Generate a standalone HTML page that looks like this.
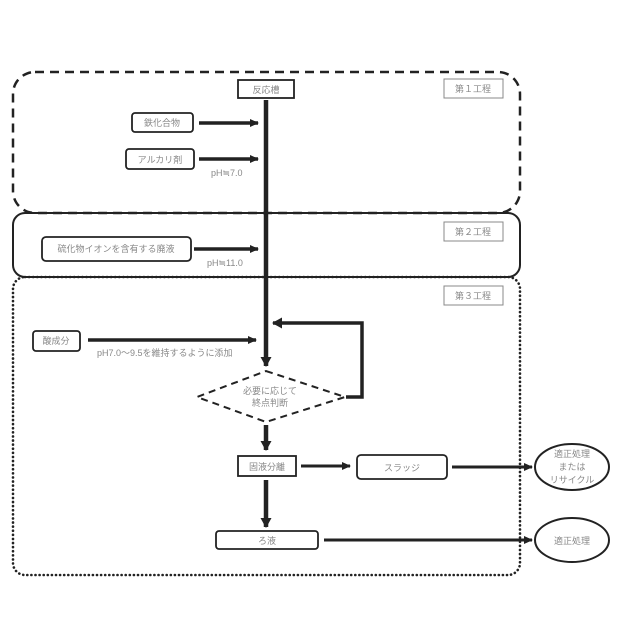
<!DOCTYPE html>
<html><head><meta charset="utf-8"><style>
html,body{margin:0;padding:0;background:#fff;}
svg{display:block;}
text{font-family:"Liberation Sans","Noto Sans CJK JP",sans-serif;fill:#888;font-size:9px;}
</style></head><body>
<svg width="640" height="640" viewBox="0 0 640 640" xmlns="http://www.w3.org/2000/svg">
<defs>
<marker id="a" markerWidth="10" markerHeight="10" refX="8" refY="5" orient="auto" markerUnits="userSpaceOnUse">
<path d="M0,1 L9,5 L0,9 z" fill="#222"/></marker>
<marker id="b" markerWidth="12" markerHeight="12" refX="9" refY="6" orient="auto" markerUnits="userSpaceOnUse">
<path d="M0,0.5 L10,6 L0,11.5 z" fill="#222"/></marker>
</defs>
<rect x="13" y="72" width="507" height="141" rx="22" fill="none" stroke="#222" stroke-width="2.5" stroke-dasharray="9,6"/>
<rect x="13" y="213" width="507" height="64" rx="12" fill="none" stroke="#222" stroke-width="2"/>
<rect x="13" y="277" width="507" height="298" rx="12" fill="none" stroke="#222" stroke-width="2.6" stroke-linecap="round" stroke-dasharray="0.1,4"/>
<g fill="#fff" stroke="#888" stroke-width="1">
<rect x="444" y="79" width="59" height="19"/>
<rect x="444" y="222" width="59" height="19"/>
<rect x="444" y="286" width="59" height="19"/>
</g>
<text x="473" y="92" text-anchor="middle">第１工程</text>
<text x="473" y="235" text-anchor="middle">第２工程</text>
<text x="473" y="299" text-anchor="middle">第３工程</text>
<line x1="266" y1="100" x2="266" y2="366" stroke="#222" stroke-width="4.5" marker-end="url(#b)"/>
<rect x="238" y="80" width="56" height="18" fill="#fff" stroke="#222" stroke-width="1.8"/>
<text x="266" y="93" text-anchor="middle">反応槽</text>
<rect x="132" y="113" width="61" height="19" rx="3" fill="#fff" stroke="#222" stroke-width="1.8"/>
<text x="162" y="126" text-anchor="middle">鉄化合物</text>
<line x1="199" y1="123" x2="258" y2="123" stroke="#222" stroke-width="3.5" marker-end="url(#a)"/>
<rect x="126" y="149" width="68" height="20" rx="3" fill="#fff" stroke="#222" stroke-width="1.8"/>
<text x="160" y="163" text-anchor="middle">アルカリ剤</text>
<line x1="199" y1="159" x2="258" y2="159" stroke="#222" stroke-width="3.5" marker-end="url(#a)"/>
<text x="211" y="176">pH≒7.0</text>
<rect x="42" y="237" width="149" height="24" rx="4" fill="#fff" stroke="#222" stroke-width="1.8"/>
<text x="116" y="252" text-anchor="middle">硫化物イオンを含有する廃液</text>
<line x1="194" y1="249" x2="258" y2="249" stroke="#222" stroke-width="3.5" marker-end="url(#a)"/>
<text x="207" y="266">pH≒11.0</text>
<rect x="33" y="331" width="47" height="20" rx="3" fill="#fff" stroke="#222" stroke-width="1.8"/>
<text x="56" y="344" text-anchor="middle">酸成分</text>
<line x1="88" y1="340" x2="256" y2="340" stroke="#222" stroke-width="3.5" marker-end="url(#a)"/>
<text x="97" y="356">pH7.0～9.5を維持するように添加</text>
<polygon points="266,371 345,397 266,422 197,397" fill="#fff" stroke="#222" stroke-width="2" stroke-dasharray="7,5"/>
<text x="270" y="394" text-anchor="middle">必要に応じて</text>
<text x="270" y="406" text-anchor="middle">終点判断</text>
<polyline points="346,397 362,397 362,323 273,323" fill="none" stroke="#222" stroke-width="3.5" marker-end="url(#b)"/>
<line x1="266" y1="425" x2="266" y2="450" stroke="#222" stroke-width="4.5" marker-end="url(#b)"/>
<rect x="238" y="456" width="58" height="20" fill="#fff" stroke="#222" stroke-width="1.8"/>
<text x="267" y="470" text-anchor="middle">固液分離</text>
<line x1="301" y1="466" x2="350" y2="466" stroke="#222" stroke-width="3" marker-end="url(#a)"/>
<rect x="357" y="455" width="90" height="24" rx="4" fill="#fff" stroke="#222" stroke-width="1.8"/>
<text x="402" y="471" text-anchor="middle">スラッジ</text>
<line x1="452" y1="467" x2="532" y2="467" stroke="#222" stroke-width="3" marker-end="url(#a)"/>
<ellipse cx="572" cy="467" rx="37" ry="23" fill="#fff" stroke="#222" stroke-width="2"/>
<text x="572" y="457" text-anchor="middle">適正処理</text>
<text x="572" y="470" text-anchor="middle">または</text>
<text x="572" y="483" text-anchor="middle">リサイクル</text>
<line x1="266" y1="480" x2="266" y2="527" stroke="#222" stroke-width="4.5" marker-end="url(#b)"/>
<rect x="216" y="531" width="102" height="18" rx="3" fill="#fff" stroke="#222" stroke-width="1.8"/>
<text x="267" y="544" text-anchor="middle">ろ液</text>
<line x1="324" y1="540" x2="532" y2="540" stroke="#222" stroke-width="3" marker-end="url(#a)"/>
<ellipse cx="572" cy="540" rx="37" ry="22" fill="#fff" stroke="#222" stroke-width="2"/>
<text x="572" y="544" text-anchor="middle">適正処理</text>
</svg>
</body></html>
